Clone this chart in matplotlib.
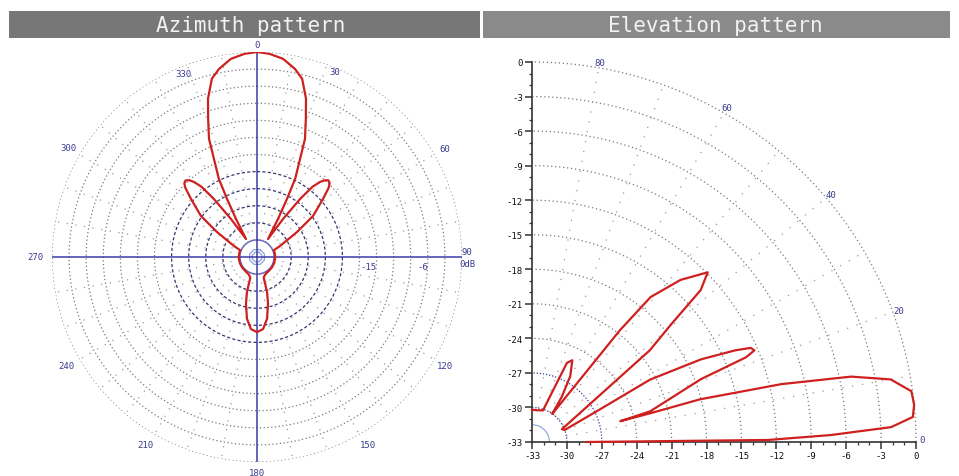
import numpy as np
import matplotlib.pyplot as plt
from matplotlib.patches import Rectangle

# azimuth cut: bearing in degrees (clockwise from north), gain in dB
az_angle = [0, 3.5, 7.5, 11.4, 14.2, 17.2, 19.5, 22.1, 23.7, 26.0, 27.3, 28.9, 31.4,
            34.4, 36.6, 38.3, 40.0, 41.5, 43.0, 44.5, 46.0, 48.7, 53.8, 58.0, 64.4,
            68, 80, 95, 110, 125, 140, 155, 162,
            164, 166.8, 170.8, 175.2, 180, 184.8, 189.2, 193.2, 196,
            198, 205, 220, 235, 250, 265, 280, 292,
            295.6, 302, 306.2, 311.3, 314, 315.5, 317, 318.5, 320, 321.7, 323.4, 325.6,
            328.6, 331.1, 332.7, 334, 336.3, 337.9, 340.5, 342.8, 345.8, 348.6, 352.5, 356.5, 360]
az_gain = [0, -0.25, -0.9, -2.3, -3.7, -6.9, -10.3, -13.6, -17.2, -20.7, -24.5, -28.4, -32.3,
           -27.9, -23.3, -20.3, -18.8, -18.0, -17.6, -17.8, -18.5, -20.6, -23.8, -27.7, -31.5,
           -32.8, -32.8, -32.8, -32.8, -32.8, -32.8, -32.6, -32.2,
           -29.6, -27.5, -25.0, -23.3, -22.8, -23.3, -25.0, -27.5, -29.6,
           -32.2, -32.6, -32.8, -32.8, -32.8, -32.8, -32.8, -32.8,
           -31.5, -27.7, -23.8, -20.6, -18.5, -17.8, -17.6, -18.0, -18.8, -20.3, -23.3, -27.9,
           -32.3, -28.4, -24.5, -20.7, -17.2, -13.6, -10.3, -6.9, -3.7, -2.3, -0.9, -0.25, 0]

# elevation cut: elevation angle in degrees, gain in dB
el_angle = [90, 80, 71, 67.7, 66.4, 64.0, 60.1, 56.9, 55.0, 54.5,
            52.1, 51.0, 47.8, 44.3, 42.3, 40.5, 38.2, 34.9, 23.4,
            20.4, 25.9, 28.1, 26.3, 24.5, 23.5, 22.6, 21.8, 20.6, 14.7, 13.4,
            13.8, 14.4, 13.2, 11.7, 10.0, 7.7, 5.6, 3.8, 2.4, 1.35, 0.5, 0.0]
el_gain = [-30.2, -30.2, -30.1, -27.8, -25.5, -25.1, -26.4, -28.3, -29.8, -30.0,
           -20.7, -16.8, -14.0, -11.9, -13.4, -17.3, -20.1, -25.9, -30.2,
           -30.0, -26.5, -21.5, -16.8, -13.8, -12.5, -12.3, -13.2, -17.5, -22.5, -25.2,
           -22.5, -18.1, -11.0, -5.0, -1.7, -0.1, 0.0, -0.2, -2.1, -7.3, -12.7, -28.3]

ring_db = list(range(-33, 1, 3))
az_labels = ['0', '30', '60', '90', '120', '150', '180', '210', '240', '270', '300', '330']
el_labels = ['0', '20', '40', '60', '80']

RED = '#cf2020'
NAVY = '#3b3b8f'
GRID = '#7a7a7a'
MONO = 'DejaVu Sans Mono'

fig = plt.figure(figsize=(9.59, 4.77), dpi=100)
W, H = 959, 477


def px_box(x0, y0, x1, y1):
    return [x0 / W, 1 - y1 / H, (x1 - x0) / W, (y1 - y0) / H]


# header bars
for (x0, x1, col, title, cx) in [(9, 480, '#777777', 'Azimuth pattern', 251),
                                 (483, 950, '#8a8a8a', 'Elevation pattern', 715)]:
    b = px_box(x0, 12, x1, 39)
    fig.add_artist(Rectangle((b[0], b[1]), b[2], b[3], transform=fig.transFigure,
                             facecolor=col, edgecolor='none'))
    fig.text(cx / W, 1 - 26 / H, title, ha='center', va='center', color='#f2f2f2',
             fontsize=15, family=MONO)

# ---- azimuth (polar) ----
ax = fig.add_axes(px_box(52, 53, 462, 463), projection='polar')
ax.set_theta_zero_location('N')
ax.set_theta_direction(-1)
rmin = -36
ax.set_ylim(rmin, 0)
ax.grid(False)
ax.set_xticks([])
ax.set_yticks([])
ax.spines['polar'].set_visible(False)

full = np.linspace(0, 2 * np.pi, 721)
for r in ring_db:
    if r == -33:
        ax.plot(full, np.full_like(full, r), color='#5a5ac8', lw=1.0)
    elif -30 <= r <= -21:
        ax.plot(full, np.full_like(full, r), color='#34346e', lw=0.9, ls=(0, (2.5, 1.8)))
    else:
        ax.plot(full, np.full_like(full, r), color=GRID, lw=0.9, ls=(0, (1, 2)))

# small octagons at the centre
octo = np.deg2rad(np.arange(0, 361, 45) + 22.5)
for r in (-35.1, -34.6):
    ax.plot(octo, np.full_like(octo, r), color='#8aa2dc', lw=0.9)

# radial dotted spokes
for a in range(0, 360, 10):
    if a % 90:
        ax.plot([np.deg2rad(a)] * 2, [-33, 0], color='#9a9a9a', lw=0.9, ls=(0, (1, 6)))
for a in (0, 90, 180, 270):
    ax.plot([np.deg2rad(a)] * 2, [rmin, 0], color='#3a3aa8', lw=1.1)

ax.plot(np.deg2rad(az_angle), az_gain, color=RED, lw=1.6, zorder=5)

# bearing labels (angle, radius in dB beyond the rim)
label_pos = [(0, 1.3), (22.9, -0.7), (60.1, 2.1), (88.4, 0.9), (119.9, 2.1), (149.3, 2.2),
             (180, 1.9), (210.8, 2.4), (240.2, 2.5), (270, 3.0), (300.2, 2.4), (338, -1.3)]
for txt, (a, r) in zip(az_labels, label_pos):
    ax.text(np.deg2rad(a), r, txt, ha='center', va='center', fontsize=6.5,
            color=NAVY, family=MONO, clip_on=False)
ax.text(np.deg2rad(91.9), 0.9, '0dB', ha='center', va='center', fontsize=6.5,
        color=NAVY, family=MONO, clip_on=False)
ax.text(np.deg2rad(95.1), -16.4, '-15', ha='center', va='center', fontsize=6.5,
        color=NAVY, family=MONO)
ax.text(np.deg2rad(93.4), -6.8, '-6', ha='center', va='center', fontsize=6.5,
        color=NAVY, family=MONO)

# ---- elevation (quarter polar on cartesian axes, radius = gain + 33) ----
ax2 = fig.add_axes(px_box(532, 63, 916, 443))
ax2.set_xlim(0, 33)
ax2.set_ylim(0, 33)
for s in ('top', 'right'):
    ax2.spines[s].set_visible(False)
for s in ('left', 'bottom'):
    ax2.spines[s].set_color('#333333')
    ax2.spines[s].set_linewidth(1.2)

quarter = np.deg2rad(np.linspace(0, 90, 300))
for r in range(3, 34, 3):
    if r <= 6:
        ax2.plot(r * np.cos(quarter), r * np.sin(quarter), color='#3a3a8a', lw=0.9,
                 ls=(0, (1, 1.5)), clip_on=False)
    else:
        ax2.plot(r * np.cos(quarter), r * np.sin(quarter), color=GRID, lw=0.9,
                 ls=(0, (1, 2.2)), clip_on=False)
ax2.plot(1.5 * np.cos(quarter), 1.5 * np.sin(quarter), color='#8aa2dc', lw=0.8)
for a in range(10, 90, 10):
    t = np.deg2rad(a)
    ax2.plot([3 * np.cos(t), 33 * np.cos(t)], [3 * np.sin(t), 33 * np.sin(t)],
             color='#9a9a9a', lw=0.9, ls=(0, (1, 7)))

t = np.deg2rad(el_angle)
rr = np.array(el_gain) + 33
ax2.plot(rr * np.cos(t), rr * np.sin(t), color=RED, lw=1.6, clip_on=False, zorder=5)

for txt in el_labels:
    a = np.deg2rad(float(txt))
    ax2.text(33.5 * np.cos(a), 33.5 * np.sin(a) + (0.2 if txt == '0' else 0), txt,
             ha='center', va='center', fontsize=6.5, color=NAVY, family=MONO)

ticks = list(range(0, 34, 3))
ax2.set_xticks(ticks)
ax2.set_xticklabels([str(v - 33) for v in ticks])
ax2.set_yticks(ticks)
ax2.set_yticklabels([str(v - 33) for v in ticks])
ax2.set_xticks(range(0, 34), minor=True)
ax2.set_yticks(range(0, 34), minor=True)
ax2.tick_params(which='major', length=5, width=1.1, color='#333333', labelsize=6.5,
                labelcolor='#111111', pad=1.5)
ax2.tick_params(which='minor', length=2.5, width=0.9, color='#333333')
for lab in ax2.get_xticklabels() + ax2.get_yticklabels():
    lab.set_family(MONO)

fig.savefig('out.png', dpi=100, facecolor='white')
